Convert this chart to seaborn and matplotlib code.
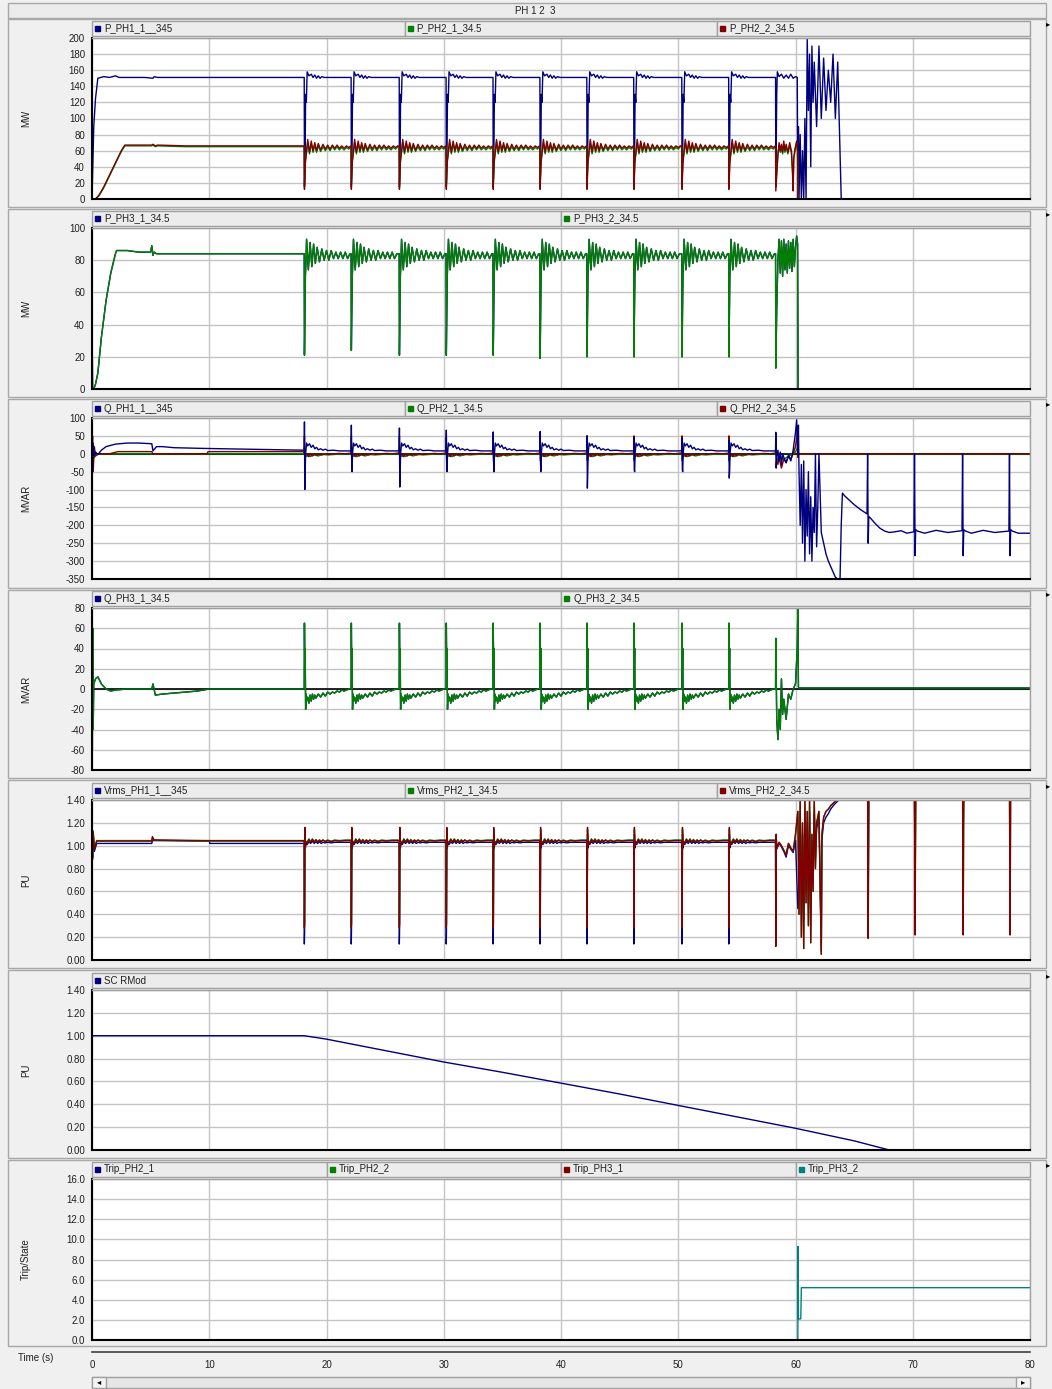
import numpy as np
import matplotlib
matplotlib.use("Agg")
import matplotlib.pyplot as plt
import seaborn as sns
from matplotlib.patches import Rectangle

sns.set_style("white")
plt.rcParams['font.family'] = ['Liberation Sans', 'DejaVu Sans']

NAVY, GREEN, MAROON, TEAL = '#00007f', '#007f00', '#800000', '#008080'

# ---------------- data ----------------
EVENT_T = [18.1, 22.1, 26.2, 30.2, 34.2, 38.2, 42.2, 46.2, 50.3, 54.3]

# Panel 1 : P_PH1_1__345
P1_PRE_T = [0, 0.15, 0.3, 0.5, 1.0, 1.5, 2.0, 2.3, 4.5, 5.2, 5.3, 5.6, 18.1]
P1_PRE_V = [0, 90, 125, 150, 152, 151, 153, 151, 151, 150, 152, 151, 151]
P1_EV_T = [0, 0.02, 0.08, 0.12, 0.18, 0.25, 0.4, 0.6, 0.75, 0.9, 1.05, 1.2, 1.35, 1.5, 1.7, 2.0, 3.95]
P1_EV_V = [151, 15, 60, 130, 120, 158, 153, 155, 151, 154, 150, 153, 150, 152, 151, 151, 151]
P1_TAIL_T = [58.3, 58.32, 58.4, 58.45, 58.6, 58.8, 59.0, 59.2, 59.4, 59.6, 59.8, 60.0, 60.15,
             60.2, 60.25, 60.3, 60.4, 60.5, 60.6, 60.7, 60.8, 60.9, 61.0,
             61.1, 61.2, 61.3, 61.4, 61.5, 61.6, 61.8, 62.0, 62.2, 62.4,
             62.6, 62.8, 63.0, 63.2, 63.4, 63.6, 63.8, 63.9, 64.0, 80]
P1_TAIL_V = [151, 15, 130, 158, 152, 155, 150, 154, 150, 155, 150, 152, 151,
             0, 90, 0, 80, 0, 60, 0, 100, 0, 200,
             110, 180, 40, 190, 120, 170, 90, 190, 100, 175,
             110, 160, 120, 180, 100, 170, 60, 0, 0, 0]

# Panel 1 : P_PH2_1 (green) / P_PH2_2 (red)
PH2_PRE_T = [0, 0.3, 0.6, 1.0, 1.5, 2.0, 2.5, 2.8, 5.1, 5.2, 5.4, 5.6, 8.0, 18.1]
PH2R_PRE_V = [0, 0, 5, 15, 30, 45, 60, 67, 67, 68, 66, 67, 66, 66]
PH2G_PRE_V = [0, 0, 4, 14, 29, 44, 59, 66, 66, 67, 65, 66, 65, 65]
PH2_EV_T = [0, 0.02, 0.1, 0.2, 0.3, 0.45, 0.6, 0.75, 0.9, 1.05, 1.2, 1.4, 1.6, 1.8, 2.0,
            2.2, 2.4, 2.6, 2.8, 3.0, 3.2, 3.4, 3.6, 3.8, 3.98]
PH2R_EV_V = [66, 12, 45, 60, 74, 58, 72, 60, 70, 60, 69, 61, 68, 62, 67,
             62, 67, 63, 67, 63, 66, 63, 66, 64, 66]
PH2G_EV_V = [65, 18, 48, 58, 70, 56, 69, 58, 67, 58, 66, 59, 65, 60, 65,
             60, 65, 61, 65, 61, 64, 61, 64, 62, 65]
PH2_TAIL_T = [58.3, 58.32, 58.4, 58.5, 58.6, 58.7, 58.8, 58.9, 59.0, 59.1, 59.2, 59.35, 59.5,
              59.65, 59.75, 59.8, 59.85, 59.95, 60.1, 60.18, 60.22, 80]
PH2R_TAIL_V = [66, 10, 30, 55, 70, 60, 68, 58, 72, 60, 68, 58, 70, 60, 30, 10, 50, 62, 72, 60, 0, 0]
PH2G_TAIL_V = [65, 15, 35, 55, 66, 58, 64, 56, 68, 58, 65, 56, 66, 58, 35, 18, 50, 60, 70, 58, 0, 0]

# Panel 2 : P_PH3_1 / P_PH3_2
PH3_PRE_T = [0, 0.05, 0.15, 0.3, 0.5, 0.8, 1.2, 1.6, 2.0, 2.1, 3.0, 4.0, 5.0, 5.1, 5.2, 5.3, 5.5, 6.0, 18.1]
PH3_PRE_V = [47, 0, 0, 3, 10, 32, 55, 72, 84, 86, 86, 85, 85, 89, 83, 85, 84, 84, 84]
PH3_EV_T = [0, 0.02, 0.06, 0.1, 0.15, 0.2, 0.35, 0.5, 0.65, 0.8, 0.95, 1.1, 1.3, 1.5, 1.7,
            1.9, 2.1, 2.3, 2.5, 2.7, 2.9, 3.1, 3.3, 3.5, 3.7, 3.9, 3.98]
PH3_EV_V = [84, 20, 45, 70, 80, 93, 74, 91, 76, 90, 78, 88, 79, 87, 80,
            86, 80, 86, 81, 85, 81, 85, 81, 85, 81, 84, 84]
PH3_DIPS = [21, 24, 21, 21, 21, 19, 20, 20, 20, 20]
PH3_TAIL_T = [58.3, 58.32, 58.4, 58.5, 58.6, 58.7, 58.8, 58.9, 59.0, 59.1, 59.2, 59.3, 59.4,
              59.5, 59.6, 59.7, 59.8, 59.9, 60.0, 60.1, 60.18, 60.22, 80]
PH3_TAIL_V = [84, 13, 50, 80, 93, 72, 92, 70, 93, 74, 90, 72, 92, 75, 91, 73, 93, 76, 88, 95, 90, 0, 0]

# Panel 3 : Q_PH1_1__345 (blue)
Q1_PRE_T = [0, 0.05, 0.1, 0.2, 0.3, 0.5, 0.8, 1.2, 2.0, 3.0, 4.0, 5.1, 5.2, 5.5, 6.0, 7.0, 9.5, 15.0, 18.1]
Q1_PRE_V = [0, -50, 30, -5, 5, -2, 10, 20, 27, 30, 30, 28, 8, 20, 20, 17, 15, 12, 10]
Q1_EV_T = [0, 0.02, 0.05, 0.08, 0.12, 0.2, 0.3, 0.45, 0.6, 0.75, 0.9, 1.05, 1.2, 1.4, 1.6, 1.8, 2.0, 2.5, 3.0, 3.5, 3.98]
Q1_EV_V = [10, 85, -95, -50, 0, 30, 22, 28, 18, 24, 14, 18, 11, 14, 10, 13, 9, 10, 8, 8, 8]
Q1_PEAKS = [89, 80, 72, 66, 61, 62, 50, 47, 44, 38]
Q1_DIPS = [-100, -17, -93, -45, -23, -23, -96, -45, -45, -68]
Q1_TAIL_T = [58.3, 58.32, 58.35, 58.4, 58.5, 58.6, 58.7, 58.8, 58.9, 59.0,
             59.2, 59.4, 59.6, 59.8, 60.0, 60.1, 60.2, 60.25, 60.3, 60.4,
             60.5, 60.6, 60.7, 60.8, 60.9, 61.0, 61.1, 61.2, 61.3, 61.4,
             61.5, 61.6, 61.7, 61.8, 61.9, 62.0, 62.2, 62.4, 62.6, 62.8,
             63.0, 63.2, 63.4, 63.6, 63.8, 63.9, 64.0, 64.2, 64.6, 65.0,
             65.5, 66.1, 66.15, 66.2, 66.25, 66.4, 66.8, 67.2, 67.6, 68.0,
             68.5, 69.0, 69.5, 70.1, 70.15, 70.2, 70.25, 70.4, 71.0, 72.0,
             73.0, 74.2, 74.25, 74.3, 74.35, 74.5, 75.0, 76.0, 77.0, 78.2,
             78.25, 78.3, 78.35, 78.5, 79.0, 80.0]
Q1_TAIL_V = [8, 60, -40, -10, 10, -20, 5, -30, 0, -10,
             -25, -5, -20, 10, 60, 95, 0, 80, -50, -200,
             -30, -250, -20, -300, -100, -230, -50, -280, -120, -300,
             -150, -220, 0, -260, -150, 0, -220, -250, -280, -300,
             -315, -330, -345, -350, -348, -200, -110, -118, -130, -142,
             -155, -168, 0, -250, -175, -180, -195, -208, -216, -220,
             -218, -215, -222, -218, 0, -285, -212, -216, -222, -214,
             -220, -215, 0, -285, -212, -216, -222, -214, -220, -216,
             0, -285, -212, -216, -222, -222]

# Panel 3 : Q_PH2_2 (red) / Q_PH2_1 (green)
QR_PRE_T = [0, 0.05, 0.1, 0.2, 0.3, 0.6, 1.5, 2.2, 5.1, 5.2, 9.8, 9.9, 18.1]
QR_PRE_V = [0, 50, -50, 20, -5, 0, 0, 6, 6, 0, 0, 6, 6]
QR_EV_T = [0, 0.02, 0.05, 0.1, 0.2, 0.35, 0.5, 0.7, 0.9, 1.1, 1.3, 1.5, 1.8, 2.1, 2.5, 3.0, 3.5, 3.98]
QR_EV_V = [2, 50, -20, -5, 0, -8, -2, -6, 0, -4, 0, -3, 0, -2, 0, 1, 0, 2]
QR_TAIL_T = [58.3, 58.32, 58.4, 58.5, 58.6, 58.8, 59.0, 59.2, 59.4, 59.6, 59.8, 60.0, 60.15, 60.2, 60.25, 80]
QR_TAIL_V = [2, 45, -20, -30, -10, -40, -15, -25, -5, -15, 0, 20, 60, -10, 0, 0]
QG_PRE_T = [0, 0.1, 0.2, 0.5, 18.1]
QG_PRE_V = [0, 20, -10, 0, 0]
QG_EV_T = [0, 0.02, 0.05, 0.1, 0.3, 0.5, 0.8, 1.2, 1.6, 2.0, 3.0, 3.98]
QG_EV_V = [0, 20, -15, -8, -5, -8, -3, -6, -2, -3, -1, 0]
QG_TAIL_T = [58.3, 58.32, 58.4, 58.6, 59.0, 59.5, 60.0, 60.2, 60.25, 80]
QG_TAIL_V = [0, 15, -20, -10, -15, -5, 5, 20, 0, 0]

# Panel 4 : Q_PH3_1 / Q_PH3_2
Q3_PRE_T = [0, 0.03, 0.06, 0.1, 0.15, 0.3, 0.5, 0.8, 1.2, 1.6, 2.0, 3.0, 5.0, 5.1, 5.2, 5.4, 6.0, 7.0, 8.0, 9.0, 10.0, 18.1]
Q3_PRE_V = [0, -60, 60, -40, 5, 10, 12, 5, 0, -2, -1, 0, 0, 0, 5, -6, -5, -4, -3, -2, 0, 0]
Q3_EV_T = [0, 0.02, 0.05, 0.08, 0.12, 0.16, 0.2, 0.3, 0.4, 0.5, 0.6, 0.7, 0.8, 0.9, 1.0,
           1.2, 1.4, 1.6, 1.8, 2.0, 2.2, 2.4, 2.6, 2.8, 3.0, 3.2, 3.4, 3.6, 3.8, 3.98]
Q3_EV_V = [0, 65, 20, 40, -20, -5, -12, -8, -14, -6, -12, -5, -10, -6, -9,
           -5, -8, -4, -7, -3, -5, -3, -4, -2, -3, -1, -2, -1, 0, 0]
Q3_TAIL_T = [58.3, 58.32, 58.4, 58.5, 58.6, 58.7, 58.8, 58.9, 59.0, 59.2, 59.4, 59.6, 59.8, 60.0, 60.15, 60.2, 60.25, 60.3, 80]
Q3_TAIL_V = [0, 50, -30, -50, -20, -40, 10, -25, -10, -30, -5, -10, 0, 5, 40, 80, 2, 1, 1]

# Panel 5 : Vrms
VB_PRE_T = [0, 0.05, 0.1, 0.2, 0.4, 0.8, 5.1, 5.15, 10.0, 10.05, 18.1]
VB_PRE_V = [1.0, 0.9, 1.1, 0.95, 1.02, 1.02, 1.02, 1.045, 1.04, 1.02, 1.02]
VR_PRE_T = [0, 0.05, 0.1, 0.2, 0.4, 0.8, 5.1, 5.15, 5.3, 10.0, 18.1]
VR_PRE_V = [1.0, 0.88, 1.12, 0.97, 1.04, 1.04, 1.04, 1.08, 1.05, 1.045, 1.045]
VG_PRE_V = [1.0, 0.9, 1.13, 0.98, 1.045, 1.045, 1.045, 1.07, 1.05, 1.04, 1.04]
V_EV_T = [0, 0.01, 0.03, 0.06, 0.1, 0.15, 0.25, 0.4, 0.55, 0.7, 0.85, 1.0, 1.15, 1.3, 1.45,
          1.6, 1.8, 2.0, 2.3, 2.6, 3.0, 3.5, 3.98]
VR_EV_V = [1.045, 0.28, 0.3, 1.16, 1.0, 1.03, 1.02, 1.055, 1.03, 1.055, 1.03, 1.05, 1.03, 1.05, 1.035,
           1.05, 1.035, 1.045, 1.035, 1.045, 1.04, 1.045, 1.045]
VB_EV_V = [1.02, 0.14, 0.25, 1.1, 0.98, 1.02, 1.01, 1.035, 1.02, 1.04, 1.02, 1.035, 1.02, 1.035, 1.02,
           1.03, 1.025, 1.03, 1.025, 1.03, 1.03, 1.03, 1.03]
VG_EV_V = [1.045, 0.3, 0.32, 1.14, 1.01, 1.04, 1.03, 1.06, 1.035, 1.06, 1.035, 1.055, 1.035, 1.05, 1.04,
           1.05, 1.04, 1.05, 1.04, 1.05, 1.045, 1.05, 1.05]
V_TAIL_T = [58.3, 58.32, 58.35, 58.4, 58.6, 58.8, 59.0, 59.2, 59.4, 59.6,
            59.8, 60.0, 60.2, 60.3, 60.4, 60.5, 60.6, 60.7, 60.8, 60.9,
            61.0, 61.1, 61.2, 61.3, 61.4, 61.5, 61.6, 61.7, 61.8, 62.0,
            62.2, 62.25, 62.4, 62.6, 62.8, 63.0, 63.3, 63.6, 64.0, 66.15,
            66.2, 66.25, 70.15, 70.2, 70.25, 74.25, 74.3, 74.35, 78.25, 78.3,
            78.35, 80]
VR_TAIL_V = [1.045, 0.12, 1.1, 0.98, 1.03, 1.0, 0.96, 0.92, 1.02, 0.98,
             0.95, 1.1, 1.3, 0.4, 1.4, 0.2, 1.2, 0.1, 1.4, 0.5,
             1.3, 0.3, 1.4, 0.15, 1.1, 0.6, 1.4, 0.8, 1.2, 1.3,
             0.05, 1.1, 1.25, 1.3, 1.32, 1.35, 1.38, 1.4, 1.5, 1.5,
             0.19, 1.5, 1.5, 0.22, 1.5, 1.5, 0.22, 1.5, 1.5, 0.22,
             1.5, 1.5]
VB_TAIL_V = [1.02, 0.15, 1.08, 0.97, 1.02, 0.99, 0.95, 0.9, 1.0, 0.97,
             0.94, 1.05, 0.45, 0.6, 1.3, 0.4, 1.1, 0.35, 1.3, 0.6,
             1.2, 0.5, 1.3, 0.4, 1.05, 0.7, 1.3, 0.9, 1.15, 1.25,
             0.08, 1.05, 1.2, 1.25, 1.28, 1.32, 1.36, 1.39, 1.5, 1.5,
             0.5, 1.5, 1.5, 0.55, 1.5, 1.5, 1.05, 1.5, 1.5, 1.5,
             1.5, 1.5]

# Panel 6 : SC RMod
SC_T = [0, 18.1, 20, 25, 30, 35, 40, 45, 50, 55, 60, 65, 68.0, 80]
SC_V = [1.0, 1.0, 0.97, 0.87, 0.77, 0.68, 0.585, 0.49, 0.39, 0.29, 0.19, 0.08, 0.0, 0.0]

# Panel 7 : trips
TRIP_T = [0, 60.2, 60.21, 60.25, 60.45, 60.5, 80]
TRIP_PH3_2 = [0, 0, 9.3, 2.1, 2.1, 5.2, 5.2]
TRIP_FLAT_T = [0, 80]
TRIP_FLAT_V = [0, 0]


def assemble(pre_t, pre_v, ev_t, ev_v, tail_t, tail_v, idx_vals=None):
    ts, vs = [np.asarray(pre_t, float)], [np.asarray(pre_v, float)]
    for i, ev in enumerate(EVENT_T):
        tv = np.asarray(ev_v, float).copy()
        if idx_vals:
            for idx, vals in idx_vals:
                tv[idx] = vals[i]
        ts.append(ev + np.asarray(ev_t, float))
        vs.append(tv)
    ts.append(np.asarray(tail_t, float))
    vs.append(np.asarray(tail_v, float))
    return np.concatenate(ts), np.concatenate(vs)


p1_blue = assemble(P1_PRE_T, P1_PRE_V, P1_EV_T, P1_EV_V, P1_TAIL_T, P1_TAIL_V)
p1_green = assemble(PH2_PRE_T, PH2G_PRE_V, PH2_EV_T, PH2G_EV_V, PH2_TAIL_T, PH2G_TAIL_V)
p1_red = assemble(PH2_PRE_T, PH2R_PRE_V, PH2_EV_T, PH2R_EV_V, PH2_TAIL_T, PH2R_TAIL_V)
p2_green = assemble(PH3_PRE_T, PH3_PRE_V, PH3_EV_T, PH3_EV_V, PH3_TAIL_T, PH3_TAIL_V, [(1, PH3_DIPS)])
p3_blue = assemble(Q1_PRE_T, Q1_PRE_V, Q1_EV_T, Q1_EV_V, Q1_TAIL_T, Q1_TAIL_V, [(1, Q1_PEAKS), (2, Q1_DIPS)])
p3_red = assemble(QR_PRE_T, QR_PRE_V, QR_EV_T, QR_EV_V, QR_TAIL_T, QR_TAIL_V)
p3_green = assemble(QG_PRE_T, QG_PRE_V, QG_EV_T, QG_EV_V, QG_TAIL_T, QG_TAIL_V)
p4_green = assemble(Q3_PRE_T, Q3_PRE_V, Q3_EV_T, Q3_EV_V, Q3_TAIL_T, Q3_TAIL_V)
p5_blue = assemble(VB_PRE_T, VB_PRE_V, V_EV_T, VB_EV_V, V_TAIL_T, VB_TAIL_V)
p5_green = assemble(VR_PRE_T, VG_PRE_V, V_EV_T, VG_EV_V, V_TAIL_T, VR_TAIL_V)
p5_red = assemble(VR_PRE_T, VR_PRE_V, V_EV_T, VR_EV_V, V_TAIL_T, VR_TAIL_V)

# ---------------- layout ----------------
W, H = 1052, 1389
BG = '#f0f0f0'
EDGE = '#a8a8a8'
TXT = '#202020'
fig = plt.figure(figsize=(W / 100, H / 100), dpi=100, facecolor=BG)


def fr(l, t, r, b):
    return [l / W, 1 - b / H, (r - l) / W, (b - t) / H]


def frame(l, t, r, b, fc=BG, ec=EDGE, lw=1.0, z=-5):
    x, y, w, h = fr(l, t, r, b)
    fig.add_artist(Rectangle((x, y), w, h, transform=fig.transFigure, facecolor=fc,
                             edgecolor=ec, lw=lw, zorder=z))


AX_L, AX_R = 92, 1030

panels = [
    dict(top=38, bot=199, ylim=(0, 200), ticks=list(range(0, 201, 20)), fmt='{:.0f}', ylabel='MW',
         legend=[('P_PH1_1__345', NAVY), ('P_PH2_1_34.5', GREEN), ('P_PH2_2_34.5', MAROON)],
         series=[(p1_blue, NAVY), (p1_green, GREEN), (p1_red, MAROON)]),
    dict(top=228, bot=389, ylim=(0, 100), ticks=list(range(0, 101, 20)), fmt='{:.0f}', ylabel='MW',
         legend=[('P_PH3_1_34.5', NAVY), ('P_PH3_2_34.5', GREEN)],
         series=[(p2_green, NAVY), (p2_green, GREEN)]),
    dict(top=418, bot=579, ylim=(-350, 100), ticks=list(range(-350, 101, 50)), fmt='{:.0f}', ylabel='MVAR',
         legend=[('Q_PH1_1__345', NAVY), ('Q_PH2_1_34.5', GREEN), ('Q_PH2_2_34.5', MAROON)],
         series=[(p3_green, GREEN), (p3_red, MAROON), (p3_blue, NAVY)], zero=True),
    dict(top=608, bot=770, ylim=(-80, 80), ticks=list(range(-80, 81, 20)), fmt='{:.0f}', ylabel='MVAR',
         legend=[('Q_PH3_1_34.5', NAVY), ('Q_PH3_2_34.5', GREEN)],
         series=[(p4_green, NAVY), (p4_green, GREEN)], zero=True),
    dict(top=800, bot=960, ylim=(0, 1.4), ticks=[round(0.2 * i, 1) for i in range(8)], fmt='{:.2f}', ylabel='PU',
         legend=[('Vrms_PH1_1__345', NAVY), ('Vrms_PH2_1_34.5', GREEN), ('Vrms_PH2_2_34.5', MAROON)],
         series=[(p5_blue, NAVY), (p5_green, GREEN), (p5_red, MAROON)]),
    dict(top=990, bot=1150, ylim=(0, 1.4), ticks=[round(0.2 * i, 1) for i in range(8)], fmt='{:.2f}', ylabel='PU',
         legend=[('SC RMod', NAVY)],
         series=[((SC_T, SC_V), NAVY)]),
    dict(top=1179, bot=1340, ylim=(0, 16), ticks=list(range(0, 17, 2)), fmt='{:.1f}', ylabel='Trip/State',
         legend=[('Trip_PH2_1', NAVY), ('Trip_PH2_2', GREEN), ('Trip_PH3_1', MAROON), ('Trip_PH3_2', TEAL)],
         series=[((TRIP_FLAT_T, TRIP_FLAT_V), NAVY), ((TRIP_FLAT_T, TRIP_FLAT_V), GREEN),
                 ((TRIP_FLAT_T, TRIP_FLAT_V), MAROON), ((TRIP_T, TRIP_PH3_2), TEAL)]),
]

# title bar
frame(8, 3, 1046, 18, fc='#ececec')
fig.text(535 / W, 1 - 11 / H, 'PH 1 2  3', ha='center', va='center', fontsize=7, color=TXT)

frame_bounds = [(19, 207), (209, 397), (399, 588), (590, 778), (780, 968), (970, 1158), (1160, 1346)]

for p, (ft, fb) in zip(panels, frame_bounds):
    frame(8, ft, 1046, fb)
    ax = fig.add_axes(fr(AX_L, p['top'], AX_R, p['bot']))
    ax.set_facecolor('white')
    for (t, v), c in p['series']:
        sns.lineplot(x=np.asarray(t, float), y=np.asarray(v, float), ax=ax, color=c, lw=1.0,
                     estimator=None, sort=False, legend=False)
    if p.get('zero'):
        ax.axhline(0, color='black', lw=1.2, zorder=1.5)
    ax.set_xlim(0, 80)
    ax.set_ylim(*p['ylim'])
    ax.set_xticks(range(0, 81, 10))
    ax.set_xticklabels([])
    ax.set_yticks(p['ticks'])
    ax.set_yticklabels([p['fmt'].format(v) for v in p['ticks']])
    ax.tick_params(axis='y', labelsize=7, length=3, width=0.8, color='#303030', labelcolor=TXT, pad=2)
    ax.tick_params(axis='x', length=0)
    ax.grid(True, color='#c4c4c4', lw=1.0)
    ax.set_axisbelow(True)
    ax.set_xlabel('')
    ax.set_ylabel('')
    for s in ('left', 'bottom'):
        ax.spines[s].set_color('black')
        ax.spines[s].set_linewidth(1.5)
    for s in ('top', 'right'):
        ax.spines[s].set_color('#a0a0a0')
        ax.spines[s].set_linewidth(1.0)
    fig.text(26 / W, 1 - (p['top'] + p['bot']) / 2 / H, p['ylabel'], rotation=90,
             ha='center', va='center', fontsize=7, color=TXT)
    # legend bar
    n = len(p['legend'])
    lt, lb = p['top'] - 17, p['top'] - 2
    seg = (AX_R - AX_L) / n
    for i, (name, c) in enumerate(p['legend']):
        l = AX_L + i * seg
        frame(l, lt, l + seg, lb, fc='#ececec', ec='#a0a0a0', z=1)
        frame(l + 3, (lt + lb) / 2 - 2.5, l + 8, (lt + lb) / 2 + 2.5, fc=c, ec=c, z=2)
        fig.text((l + 12) / W, 1 - (lt + lb) / 2 / H, name, ha='left', va='center',
                 fontsize=7, color=TXT)
    fig.text(1048 / W, 1 - (p['top'] - 13) / H, '\u25b8', ha='center', va='center',
             fontsize=6, color='black')

# time axis
axt = fig.add_axes(fr(AX_L, 1351, AX_R, 1352))
axt.set_facecolor('none')
axt.set_xlim(0, 80)
axt.set_yticks([])
axt.set_xticks(range(0, 81, 10))
axt.set_xticklabels([str(v) for v in range(0, 81, 10)])
for s in ('left', 'right', 'top'):
    axt.spines[s].set_visible(False)
axt.spines['bottom'].set_color('#404040')
axt.spines['bottom'].set_linewidth(1.2)
axt.tick_params(axis='x', direction='in', length=5, width=1, labelsize=7, labelcolor=TXT, pad=6)
fig.text(18 / W, 1 - 1358 / H, 'Time (s)', ha='left', va='center', fontsize=7, color=TXT)

# scroll bar
frame(92, 1377, 1030, 1388, fc='#e6e6e6', ec='#a0a0a0', z=1)
frame(92, 1377, 106, 1388, fc='#f4f4f4', ec='#a0a0a0', z=2)
frame(1016, 1377, 1030, 1388, fc='#f4f4f4', ec='#a0a0a0', z=2)
fig.text(99 / W, 1 - 1382.5 / H, '\u25c2', ha='center', va='center', fontsize=6, color='black')
fig.text(1023 / W, 1 - 1382.5 / H, '\u25b8', ha='center', va='center', fontsize=6, color='black')

fig.savefig('out.png', dpi=100, facecolor=BG)
